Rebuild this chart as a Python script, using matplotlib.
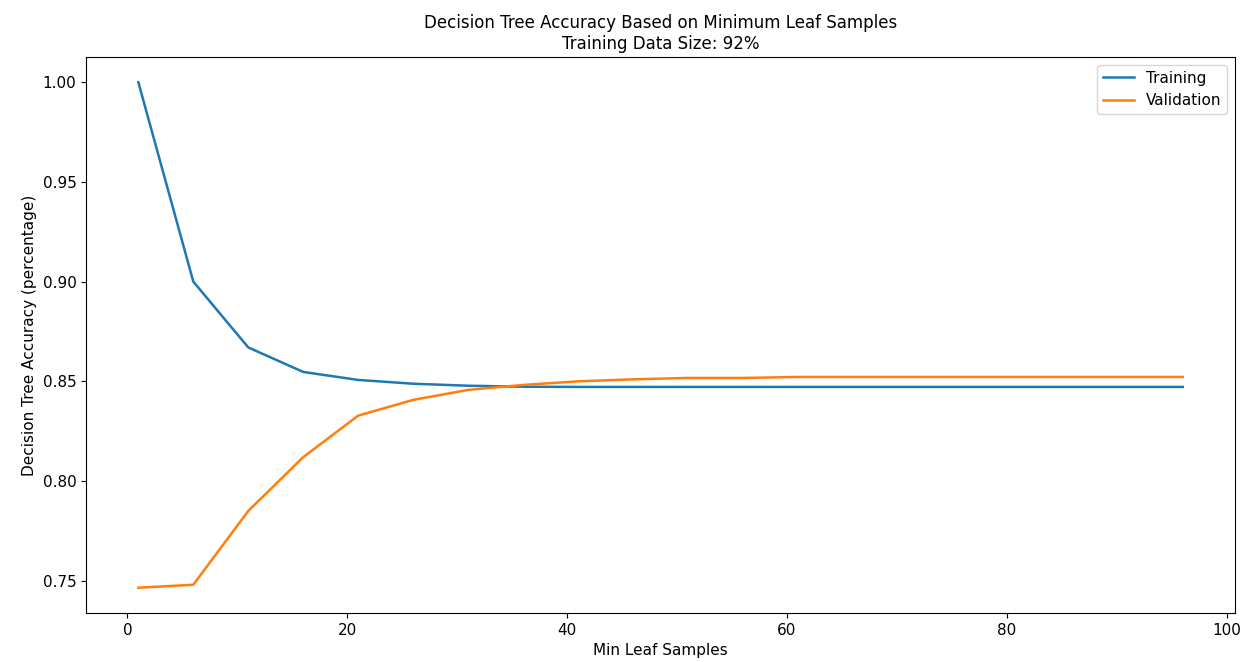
import numpy as np
import matplotlib.pyplot as plt

# min_samples_leaf values tried
leaf_sizes = list(range(1, 97, 5))

train_acc = [1.000, 0.900, 0.867, 0.8547, 0.8507, 0.8488, 0.8478, 0.8473,
             0.8472, 0.8472, 0.8472, 0.8472, 0.8472, 0.8472, 0.8472, 0.8472,
             0.8472, 0.8472, 0.8472, 0.8472]
val_acc = [0.7465, 0.748, 0.785, 0.812, 0.8328, 0.8407, 0.8457, 0.8482,
           0.8500, 0.8510, 0.8517, 0.8517, 0.8522, 0.8522, 0.8522, 0.8522,
           0.8522, 0.8522, 0.8522, 0.8522]

fig, ax = plt.subplots(figsize=(12.48, 6.62), dpi=100)
ax.plot(leaf_sizes, train_acc, label='Training', linewidth=1.8)
ax.plot(leaf_sizes, val_acc, label='Validation', linewidth=1.8)

ax.set_title('Decision Tree Accuracy Based on Minimum Leaf Samples\nTraining Data Size: 92%',
             fontsize=12)
ax.set_xlabel('Min Leaf Samples', fontsize=11)
ax.set_ylabel('Decision Tree Accuracy (percentage)', fontsize=11)
ax.tick_params(labelsize=11)
ax.legend(fontsize=11)

plt.subplots_adjust(left=0.069, right=0.9896, top=0.914, bottom=0.074)
plt.savefig('out.png')
